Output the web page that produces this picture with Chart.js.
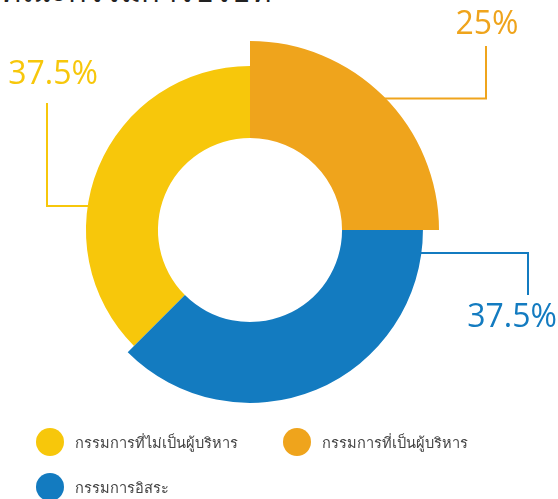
<!DOCTYPE html>
<html lang="th">
<head>
<meta charset="utf-8">
<script src="https://cdn.jsdelivr.net/npm/chart.js@4"></script>
<style>
  body { margin: 0; background: #fff; font-family: "Noto Sans", sans-serif; }
  #wrap { position: relative; width: 558px; height: 499px; overflow: hidden; }
  #title { position: absolute; left: 1px; top: -28px; font-size: 31px; line-height: 36px; color: #222; white-space: nowrap; }
  #box { position: absolute; left: 0; top: 0; }
  #legend { position: absolute; left: 36px; top: 428px; width: 522px; display: flex; flex-wrap: wrap; }
  .item { width: 247px; height: 45px; display: flex; align-items: flex-start; }
  .dot { width: 28px; height: 28px; border-radius: 50%; margin-right: 11px; flex: none; }
  .txt { font-size: 14.6px; color: #444; line-height: 28px; white-space: nowrap; }
</style>
</head>
<body>
<div id="wrap">
  <div id="title">คณะกรรมการบริษัท</div>
  <canvas id="box" width="558" height="499"></canvas>
  <div id="legend"></div>
</div>
<script>
const labels = ['กรรมการที่ไม่เป็นผู้บริหาร', 'กรรมการที่เป็นผู้บริหาร', 'กรรมการอิสระ'];
const values = [37.5, 25, 37.5];
const colors = ['#F7C70B', '#EFA41C', '#137BC0'];

// how far each slice reaches, relative to the biggest one
const sliceRadius = [0.868, 1, 0.915];
// leader line: angle on the arc edge (deg), elbow x, end y, text position
const leaders = [
  {angle: 188.5, elbowX: 47, endY: 103, textX: 53, textY: 84},
  {angle: -44.4, elbowX: 486, endY: 46, textX: 487, textY: 34},
  {angle: 7.7, elbowX: 528, endY: 295, textX: 512, textY: 327}
];

const legendEl = document.getElementById('legend');
labels.forEach((l, i) => {
  const it = document.createElement('div');
  it.className = 'item';
  it.innerHTML = '<span class="dot" style="background:' + colors[i] + '"></span><span class="txt">' + l + '</span>';
  legendEl.appendChild(it);
});

const sliceSizes = {
  id: 'sliceSizes',
  beforeDatasetsDraw(chart) {
    const meta = chart.getDatasetMeta(0);
    const base = meta.controller.outerRadius;
    meta.data.forEach((arc, i) => { arc.outerRadius = base * sliceRadius[i]; });
  }
};

const leaderLabels = {
  id: 'leaderLabels',
  afterDatasetsDraw(chart) {
    const ctx = chart.ctx;
    const meta = chart.getDatasetMeta(0);
    const total = values.reduce((a, b) => a + b, 0);
    meta.data.forEach((arc, i) => {
      const ld = leaders[i];
      const a = ld.angle * Math.PI / 180;
      const r = arc.outerRadius - 1;
      const ax = arc.x + r * Math.cos(a);
      const ay = arc.y + r * Math.sin(a);
      ctx.save();
      ctx.strokeStyle = colors[i];
      ctx.lineWidth = 2;
      ctx.beginPath();
      ctx.moveTo(ax, ay);
      ctx.lineTo(ld.elbowX, ay);
      ctx.lineTo(ld.elbowX, ld.endY);
      ctx.stroke();
      ctx.fillStyle = colors[i];
      ctx.font = '32px "Open Sans"';
      ctx.textAlign = 'center';
      ctx.textBaseline = 'alphabetic';
      ctx.fillText((values[i] / total * 100) + '%', ld.textX, ld.textY);
      ctx.restore();
    });
  }
};

new Chart(document.getElementById('box'), {
  type: 'doughnut',
  data: {
    labels: labels,
    datasets: [{
      data: values,
      backgroundColor: colors,
      borderWidth: 0,
      hoverOffset: 0
    }]
  },
  options: {
    responsive: false,
    animation: false,
    events: [],
    rotation: -135,
    cutout: '48.7%',
    layout: { padding: {left: 61, right: 119, top: 41, bottom: 80} },
    plugins: {
      legend: { display: false },
      tooltip: { enabled: false }
    }
  },
  plugins: [sliceSizes, leaderLabels]
});
</script>
</body>
</html>
